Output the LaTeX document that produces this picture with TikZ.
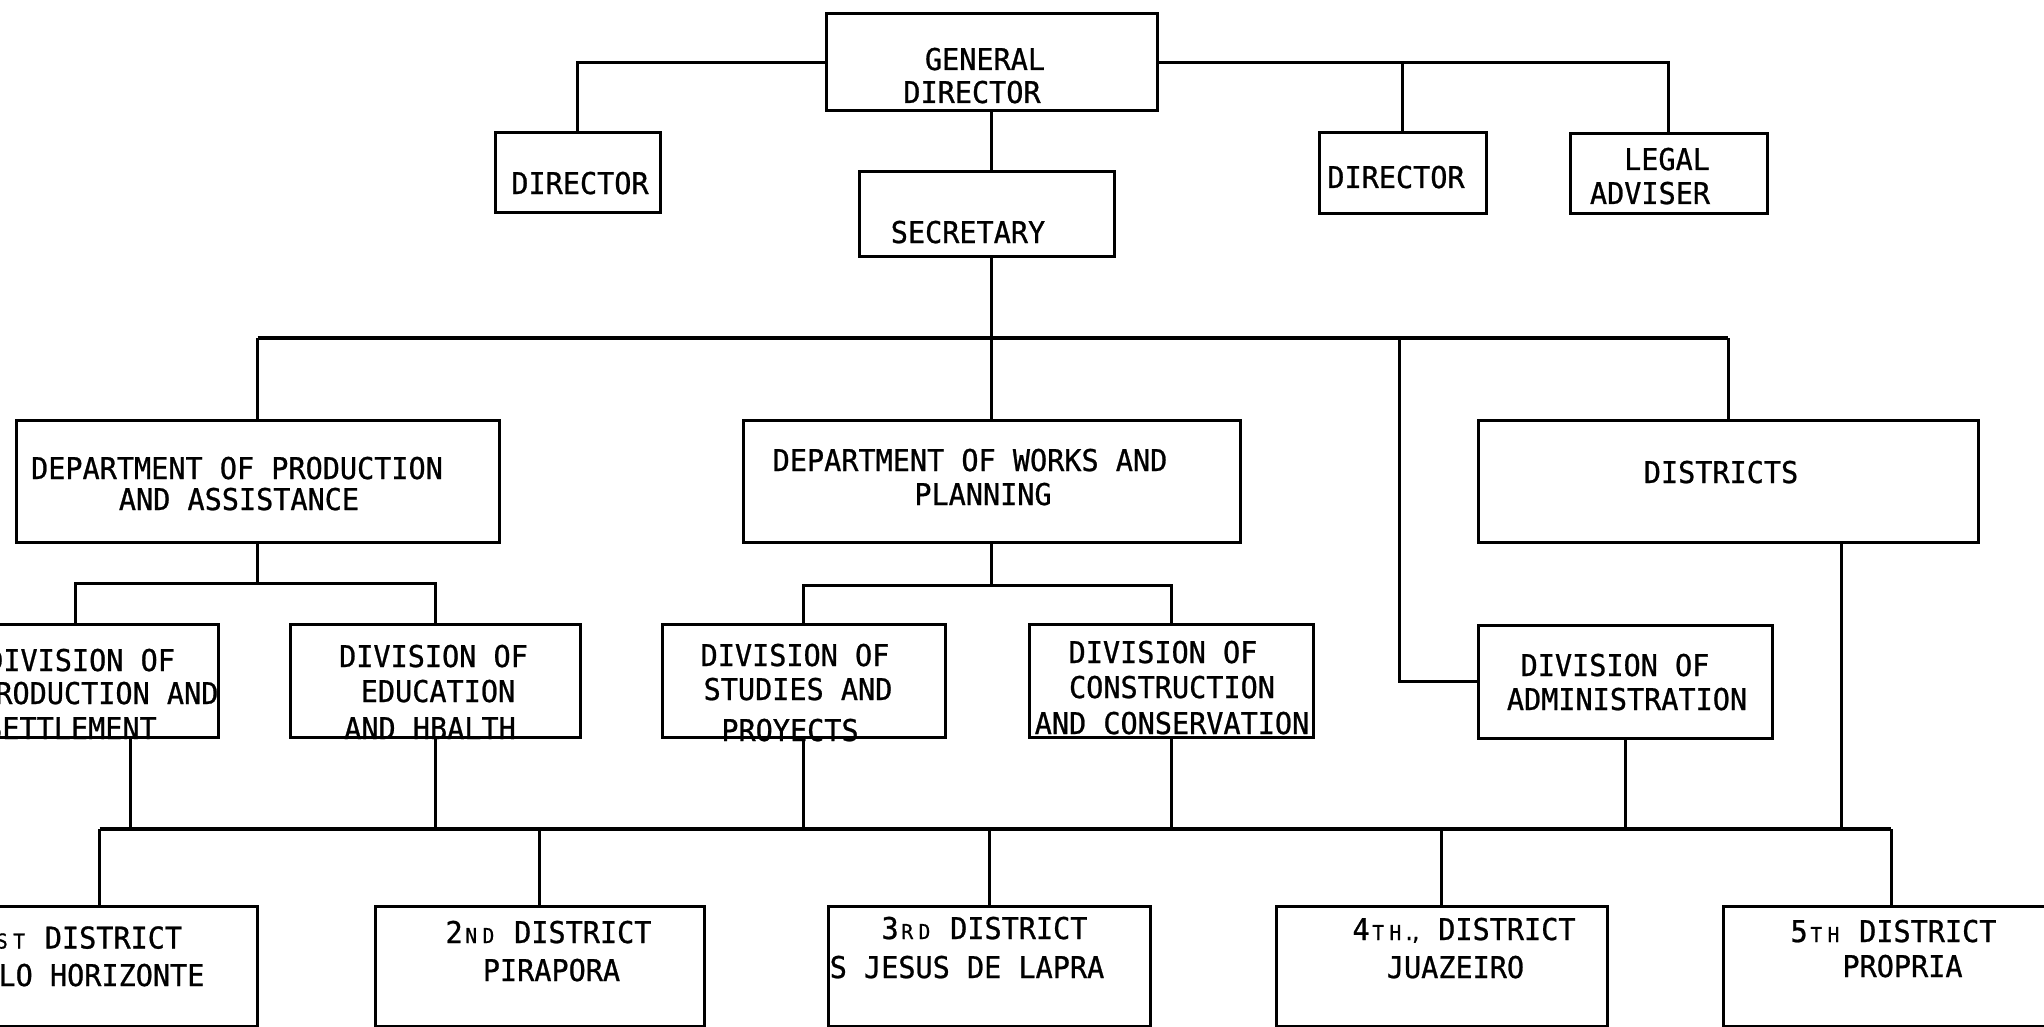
\documentclass[tikz,border=0pt]{standalone}
\usepackage{fontspec}
\setmainfont{DejaVu Sans Mono}[FakeStretch=0.95,FakeBold=0.8]
% small ordinal letters, each kept in one full character cell
\newcommand\ordsuf[1]{\makebox[17.16pt]{\fontsize{20.5}{20}\selectfont#1}}
\begin{document}
\begin{tikzpicture}[x=1pt,y=-1pt,
  orgbox/.style={draw, line width=3pt, rectangle, inner sep=0pt},
  sz/.style 2 args={minimum width=#1pt, minimum height=#2pt},
  txt/.style={font=\fontsize{30}{34}\selectfont, inner sep=0pt, anchor=base},
  txtl/.style={txt, anchor=base west},
  link/.style={line width=3pt},
  bus/.style={line width=4pt}]
\useasboundingbox (0,0) rectangle (2044,1027);
\fill[white] (0,0) rectangle (2044,1027);
\clip (0,0) rectangle (2044,1027);

% ---- boxes ----
\node[orgbox, sz={331}{97}]  (gd)  at (991.5,62.5) {};
\node[orgbox, sz={165}{79}]  (dl)  at (577.5,172.5) {};
\node[orgbox, sz={255}{84}]  (sec) at (986.5,214) {};
\node[orgbox, sz={167}{80}]  (dr)  at (1402.5,173) {};
\node[orgbox, sz={197}{79}]  (lg)  at (1668.5,173.5) {};
\node[orgbox, sz={483}{122}] (pa)  at (257.5,481) {};
\node[orgbox, sz={497}{122}] (wp)  at (991.5,481) {};
\node[orgbox, sz={500}{122}] (ds)  at (1728,481) {};
\node[orgbox, sz={286}{113}] (sp)  at (75,681) {};
\node[orgbox, sz={290}{113}] (ed)  at (435,681) {};
\node[orgbox, sz={283}{113}] (st)  at (803.5,681) {};
\node[orgbox, sz={284}{113}] (co)  at (1171,681) {};
\node[orgbox, sz={294}{113}] (adm) at (1625,681.5) {};
\node[orgbox, sz={315}{120}] (d1)  at (99.5,966) {};
\node[orgbox, sz={329}{120}] (d2)  at (539.5,966) {};
\node[orgbox, sz={322}{120}] (d3)  at (989,966) {};
\node[orgbox, sz={331}{120}] (d4)  at (1441.5,966) {};
\node[orgbox, sz={336}{120}] (d5)  at (1891,966) {};

% ---- lettering ----
\node[txt] (gdA) at (985,70) {GENERAL};
\node[txt] (gdB) at (972,103) {DIRECTOR};
\node[txt] (dlA) at (580,194) {DIRECTOR};
\node[txt] (secA) at (968,243) {SECRETARY};
\node[txt] (drA) at (1396,188) {DIRECTOR};
\node[txt] (lgA) at (1667,170) {LEGAL};
\node[txt] (lgB) at (1650,204) {ADVISER};
\node[txt] (paA) at (237,479) {DEPARTMENT OF PRODUCTION};
\node[txt] (paB) at (239,510) {AND ASSISTANCE};
\node[txt] (wpA) at (970,471) {DEPARTMENT OF WORKS AND};
\node[txt] (wpB) at (983,505) {PLANNING};
\node[txt] (dsA) at (1721,483) {DISTRICTS};
\node[txtl] (spA) at (-14,671) {DIVISION OF};
\node[txtl] (spB) at (-22,704) {PRODUCTION AND};
\node[txtl] (spC) at (-15,739) {SETTLEMENT};
\node[txt] (edA) at (433.5,667) {DIVISION OF};
\node[txt] (edB) at (438,702) {EDUCATION};
\node[txt] (edC) at (430,739) {AND HBALTH};
\node[txt] (stA) at (795,666) {DIVISION OF};
\node[txt] (stB) at (798,700) {STUDIES AND};
\node[txt] (stC) at (790,741) {PROYECTS};
\node[txt] (coA) at (1163,663) {DIVISION OF};
\node[txt] (coB) at (1172,698) {CONSTRUCTION};
\node[txt] (coC) at (1172,734) {AND CONSERVATION};
\node[txt] (adA) at (1615,676) {DIVISION OF};
\node[txt] (adB) at (1627,710) {ADMINISTRATION};
\node[txtl] (d1A) at (-24,948.5) {1\ordsuf{S}\ordsuf{T} DISTRICT};
\node[txtl] (d1B) at (-36,986) {BELO HORIZONTE};
\node[txt] (d2A) at (548.5,943) {2\ordsuf{N}\ordsuf{D} DISTRICT};
\node[txt] (d2B) at (551.5,981) {PIRAPORA};
\node[txt] (d3A) at (984.5,939) {3\ordsuf{R}\ordsuf{D} DISTRICT};
\node[txt] (d3B) at (967,978) {S JESUS DE LAPRA};
\node[txt] (d4A) at (1464,940) {4\ordsuf{T}\ordsuf{H}\ordsuf{.\kern-5pt,} DISTRICT};
\node[txt] (d4B) at (1455.5,978) {JUAZEIRO};
\node[txt] (d5A) at (1893.5,942) {5\ordsuf{T}\ordsuf{H} DISTRICT};
\node[txt] (d5B) at (1902.5,977) {PROPRIA};

% ---- top level links ----
\draw[link] (gd.west) -| (dl.north);
\draw[link] (gd.east) -| (lg.north);
\draw[link] (dr.north) -- (dr.north |- gd.east);
\draw[link] (gd.south) -- (gd.south |- sec.north);

% ---- secretary bus ----
\coordinate (hub) at (991.5,338);
\coordinate (admtap) at (1399,338);
\draw[link] (gd.south |- sec.south) -- (hub);
\draw[bus] (pa.north |- hub) -- (ds.north |- hub);
\foreach \n in {pa,wp,ds} \draw[link] (\n.north) -- (\n.north |- hub);
\draw[link] (admtap) |- (adm.west);

% ---- department forks ----
\coordinate (forkP) at (257.5,583);
\coordinate (forkW) at (991.5,585);
\draw[link] (pa.south) -- (forkP);
\draw[link] (sp.north) |- (forkP) -| (ed.north);
\draw[link] (wp.south) -- (forkW);
\draw[link] (st.north) |- (forkW) -| (co.north);

% ---- district bus ----
\coordinate (low) at (0,829);
\coordinate (spout) at ([xshift=55pt]sp.south);
\coordinate (dsout) at ([xshift=113pt]ds.south);
\draw[bus] (d1.north |- low) -- (d5.north |- low);
\foreach \n in {spout,ed.south,st.south,co.south,adm.south,dsout}
  \draw[link] (\n) -- (\n |- low);
\foreach \n in {d1,d2,d3,d4,d5}
  \draw[link] (\n.north) -- (\n.north |- low);
\end{tikzpicture}
\end{document}
